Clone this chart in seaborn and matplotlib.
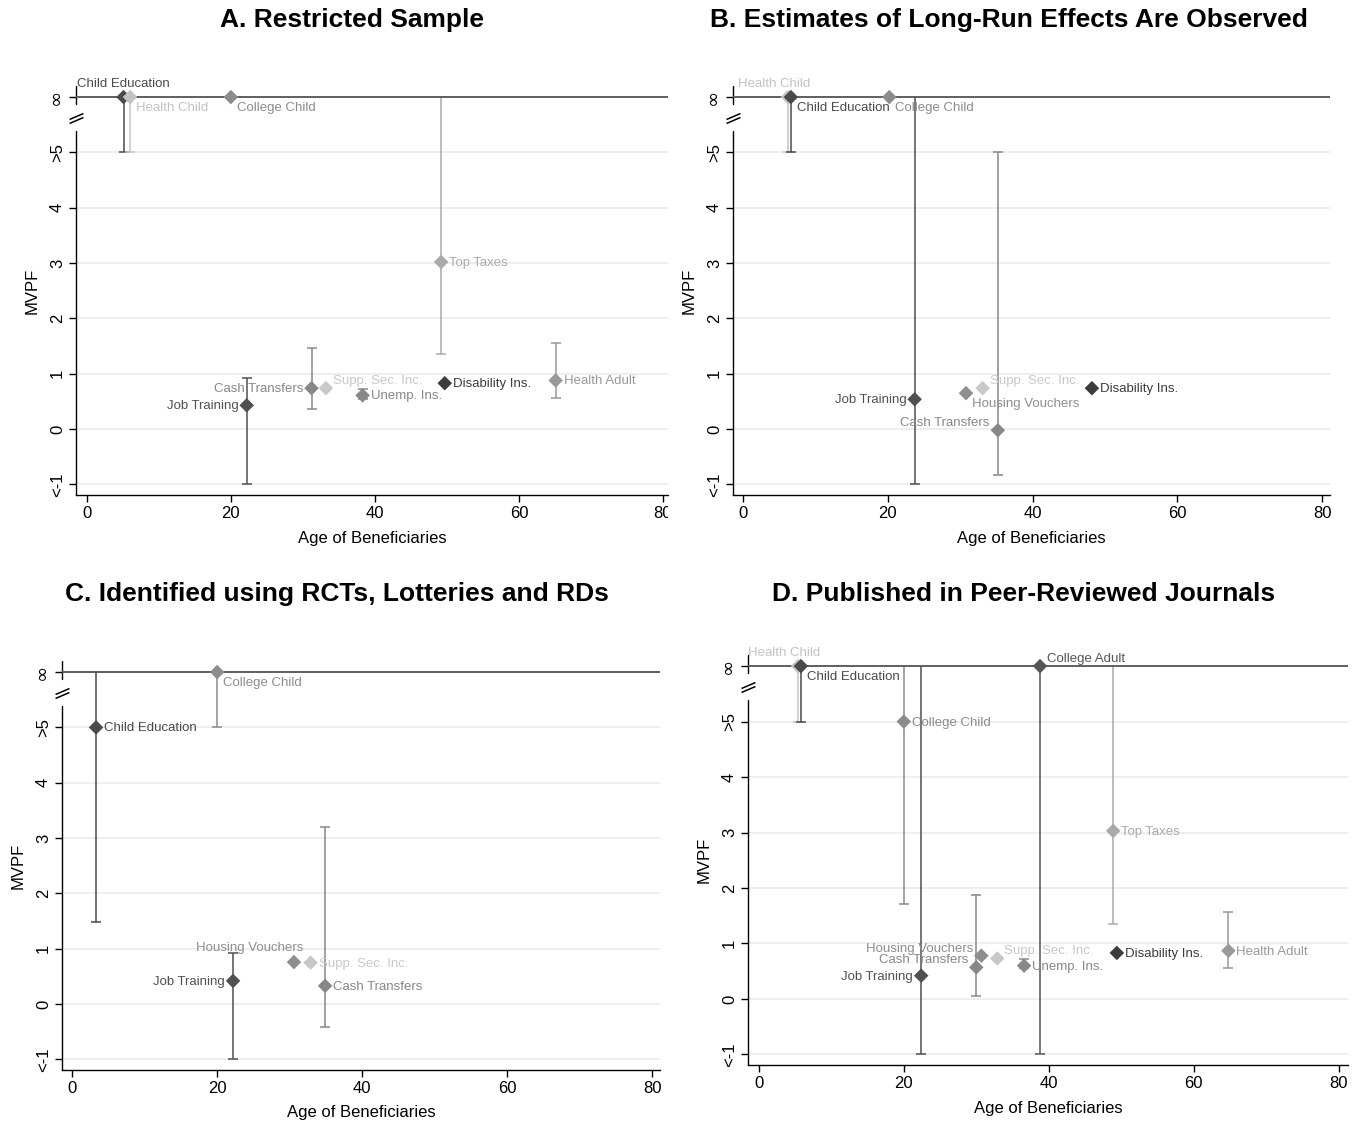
import numpy as np
import pandas as pd
import matplotlib
matplotlib.use('Agg')
import matplotlib.pyplot as plt
from matplotlib.path import Path
from matplotlib.transforms import Bbox, TransformedBbox
import seaborn as sns

sns.set_style('white')
plt.rcParams['font.family'] = ['Liberation Sans', 'DejaVu Sans']
plt.rcParams['text.color'] = 'black'
plt.rcParams['axes.labelcolor'] = 'black'
plt.rcParams['xtick.color'] = 'black'
plt.rcParams['ytick.color'] = 'black'

INF = np.inf
NA = np.nan

# ---- data (inf = "∞", 5 = ">5", -1 = "<-1") ----
a_prog = ['Child Education', 'Health Child', 'College Child', 'Top Taxes', 'Disability Ins.',
          'Health Adult', 'Job Training', 'Cash Transfers', 'Supp. Sec. Inc.', 'Unemp. Ins.']
a_age = [5.1, 6.0, 20.0, 49.2, 49.7, 65.1, 22.2, 31.2, 33.2, 38.3]
a_mvpf = [INF, INF, INF, 3.02, 0.83, 0.88, 0.43, 0.74, 0.74, 0.61]
a_lo = [5, 5, NA, 1.35, NA, 0.56, -1, 0.37, NA, 0.55]
a_hi = [INF, INF, NA, INF, NA, 1.56, 0.92, 1.47, NA, 0.72]
a_pos = ['t', 'br', 'br', 'r', 'r', 'r', 'l', 'l', 'tr', 'r']

b_prog = ['Health Child', 'Child Education', 'College Child', 'Job Training', 'Housing Vouchers',
          'Supp. Sec. Inc.', 'Cash Transfers', 'Disability Ins.']
b_age = [6.2, 6.6, 20.2, 23.7, 30.8, 33.1, 35.2, 48.2]
b_mvpf = [INF, INF, INF, 0.54, 0.65, 0.74, -0.02, 0.74]
b_lo = [5, 5, NA, -1, NA, NA, -0.82, NA]
b_hi = [INF, INF, NA, INF, NA, NA, 5, NA]
b_pos = ['tl', 'br', 'br', 'l', 'br', 'tr', 'ul', 'r']

c_prog = ['Child Education', 'College Child', 'Housing Vouchers', 'Supp. Sec. Inc.',
          'Job Training', 'Cash Transfers']
c_age = [3.3, 20.0, 30.6, 32.9, 22.2, 34.9]
c_mvpf = [5, INF, 0.76, 0.75, 0.42, 0.33]
c_lo = [1.48, 5, NA, NA, -1, -0.42]
c_hi = [INF, INF, NA, NA, 0.92, 3.2]
c_pos = ['r', 'br', 'tlr', 'r', 'l', 'r']

d_prog = ['Health Child', 'Child Education', 'College Child', 'Job Training', 'College Adult',
          'Top Taxes', 'Housing Vouchers', 'Cash Transfers', 'Supp. Sec. Inc.', 'Unemp. Ins.',
          'Disability Ins.', 'Health Adult']
d_age = [5.4, 5.8, 20.0, 22.4, 38.8, 48.9, 30.7, 30.0, 32.9, 36.6, 49.4, 64.8]
d_mvpf = [INF, INF, 5, 0.42, INF, 3.03, 0.78, 0.57, 0.73, 0.60, 0.83, 0.87]
d_lo = [5, 5, 1.72, -1, -1, 1.35, NA, 0.05, NA, 0.55, NA, 0.55]
d_hi = [INF, INF, INF, INF, INF, INF, NA, 1.87, NA, 0.72, NA, 1.56]
d_pos = ['tl', 'br', 'r', 'l', 'tr', 'r', 'ul', 'ul', 'tr', 'r', 'r', 'r']

titles = ['A. Restricted Sample', 'B. Estimates of Long-Run Effects Are Observed',
          'C. Identified using RCTs, Lotteries and RDs', 'D. Published in Peer-Reviewed Journals']
ytick_vals = [-1, 0, 1, 2, 3, 4, 5, 6]
ytick_labels = ['<-1', '0', '1', '2', '3', '4', '>5', '\u221e']
xtick_vals = [0, 20, 40, 60, 80]

pal = {'Child Education': '#4a4a4a', 'Health Child': '#c3c3c3', 'College Child': '#8c8c8c',
       'Top Taxes': '#aaaaaa', 'Disability Ins.': '#3c3c3c', 'Health Adult': '#999999',
       'Job Training': '#505050', 'Cash Transfers': '#878787', 'Supp. Sec. Inc.': '#c8c8c8',
       'Unemp. Ins.': '#888888', 'Housing Vouchers': '#8e8e8e', 'College Adult': '#555555'}

# label placement (offset px, horizontal alignment)
lab_off = {'r': (8, -1, 'left'), 'l': (-8, -1, 'right'), 't': (0, 13, 'center'),
           'tl': (-14, 13, 'center'), 'br': (6, -11, 'left'), 'tr': (7, 7, 'left'),
           'ul': (-8, 7, 'right'), 'tlr': (9, 14, 'right')}

INF_Y = 6
W, H = 1364, 1124
fig = plt.figure(figsize=(W / 100, H / 100), dpi=100)

# break marker for the y axis
brk = Path([(-7, -5), (7, 1), (-7, -1), (7, 5)],
           [Path.MOVETO, Path.LINETO, Path.MOVETO, Path.LINETO])


def draw(box, prog, age, mvpf, lo, hi, pos, title, title_xy, xlim):
    x0, x1, y0, y1 = box
    ax = fig.add_axes([x0 / W, 1 - y1 / H, (x1 - x0) / W, (y1 - y0) / H])
    df = pd.DataFrame({'prog': prog, 'age': age, 'mvpf': mvpf, 'lo': lo, 'hi': hi, 'pos': pos})
    df['y'] = df['mvpf'].replace(INF, INF_Y)
    df['ylo'] = df['lo'].replace(INF, INF_Y)
    df['yhi'] = df['hi'].replace(INF, INF_Y)

    # confidence intervals
    for _, r in df.dropna(subset=['lo']).iterrows():
        c = pal[r['prog']]
        ax.vlines(r['age'], r['ylo'], r['yhi'], color=c, lw=1.1, zorder=2)
        for v in (r['lo'], r['hi']):
            if np.isfinite(v):
                ax.plot(r['age'], v, marker='_', ms=7, mew=1.1, color=c, zorder=2)

    ax.axhline(INF_Y, color='#555555', lw=1.3, zorder=2.5)
    sns.scatterplot(data=df, x='age', y='y', hue='prog', palette=pal, marker='D', s=55,
                    linewidth=0, legend=False, ax=ax, zorder=3)
    for _, r in df.iterrows():
        dx, dy, ha = lab_off[r['pos']]
        ax.annotate(r['prog'], (r['age'], r['y']), xytext=(dx, dy), textcoords='offset pixels',
                    ha=ha, va='center', fontsize=9.5, color=pal[r['prog']], zorder=4)

    ax.set_xlim(*xlim)
    ax.set_ylim(-1.19, 6.2)
    ax.set_xticks(xtick_vals)
    ax.set_yticks(ytick_vals)
    ax.set_yticklabels(ytick_labels, rotation=90, va='center')
    ax.tick_params(axis='both', length=5, width=1, color='black', labelsize=12, pad=3,
                   left=True, bottom=True, labelcolor='black')
    for t in ax.get_xticklabels() + ax.get_yticklabels():
        t.set_family(['Liberation Sans Narrow', 'Liberation Sans', 'DejaVu Sans'])
    inf_lab = ax.get_yticklabels()[-1]
    inf_lab.set_family(['DejaVu Sans'])
    inf_lab.set_fontsize(14)
    ax.grid(axis='y', color='#ebebeb', lw=1.2)
    ax.set_axisbelow(True)
    for s in ['top', 'right', 'left']:
        ax.spines[s].set_visible(False)
    ax.spines['bottom'].set_color('black')
    ax.spines['bottom'].set_linewidth(1)

    # broken left axis
    yt = ax.get_yaxis_transform()
    ax.plot([0, 0], [-1.19, 5.39], transform=yt, color='black', lw=1, clip_on=False)
    ax.plot([0, 0], [5.87, 6.2], transform=yt, color='black', lw=1, clip_on=False)
    ax.plot([0], [5.63], transform=yt, marker=brk, ms=10, mew=1.1, color='black',
            fillstyle='none', clip_on=False)

    ax.set_xlabel('Age of Beneficiaries', fontsize=12, color='black')
    ax.set_ylabel('MVPF', fontsize=12, color='black')
    ax.xaxis.set_label_coords(0.5, -43 / (y1 - y0))
    ax.xaxis.label.set_va('center')
    ax.yaxis.set_label_coords(-44 / (x1 - x0), 0.5)
    ax.yaxis.label.set_va('center')

    fig.text(title_xy[0] / W, 1 - title_xy[1] / H, title, ha='center', va='center',
             fontsize=19, fontweight='bold', color='black')
    return ax


axA = draw((76, 668, 86, 495), a_prog, a_age, a_mvpf, a_lo, a_hi, a_pos, titles[0], (352, 20), (-1.5, 80.7))
axB = draw((733, 1330, 86, 495), b_prog, b_age, b_mvpf, b_lo, b_hi, b_pos, titles[1], (1009, 20), (-1.4, 81.1))
axC = draw((62, 660, 661, 1070), c_prog, c_age, c_mvpf, c_lo, c_hi, c_pos, titles[2], (337, 594), (-1.4, 81.1))
axD = draw((748, 1348, 655, 1065), d_prog, d_age, d_mvpf, d_lo, d_hi, d_pos, titles[3], (1024, 594), (-1.5, 81.3))

# panel A's last tick label is cut at the panel edge
clip = TransformedBbox(Bbox([[0, 0], [668 / W, 1]]), fig.transFigure)
lab80 = axA.xaxis.get_major_ticks()[-1].label1
lab80.set_clip_box(clip)
lab80.set_clip_on(True)

fig.savefig('out.png', dpi=100)
